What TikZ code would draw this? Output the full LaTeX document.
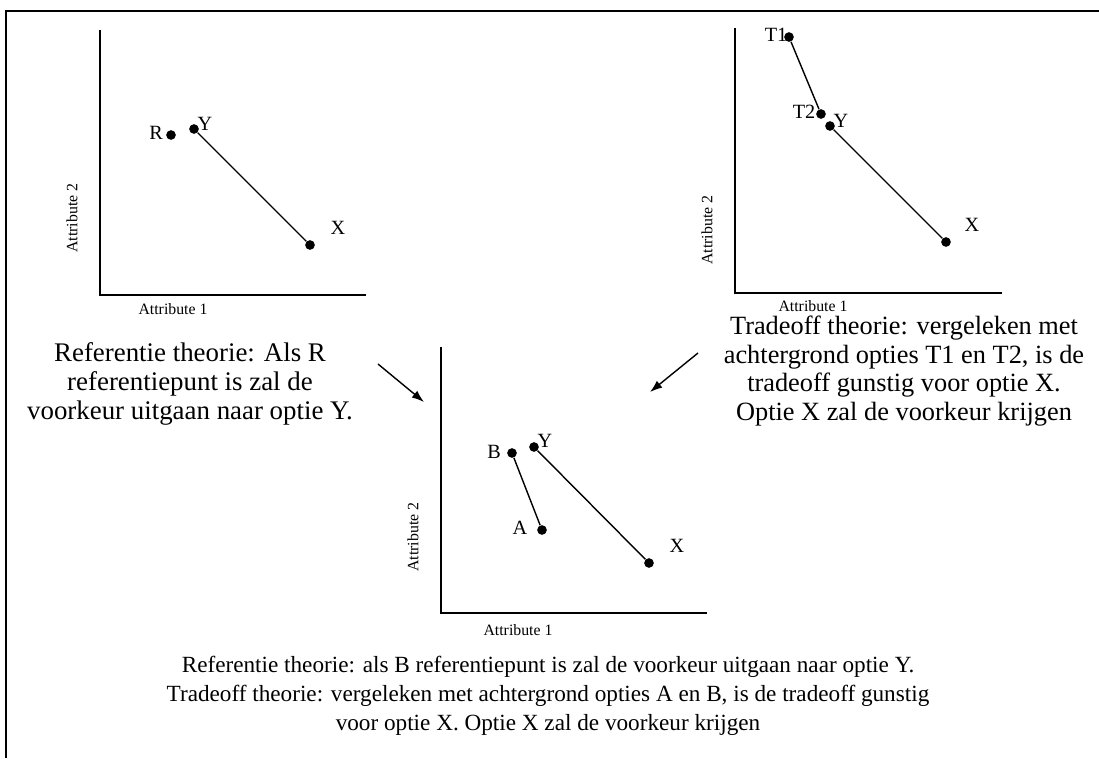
\documentclass[tikz,border=0pt]{standalone}
\usepackage{fontspec}
\setmainfont{Liberation Serif}
\usetikzlibrary{calc,arrows.meta}

\begin{document}
\begin{tikzpicture}[x=0.02cm,y=-0.02cm,>={Latex[length=7pt,width=5pt]}]
                \tikzset{
                    dot/.style={circle,fill,inner sep=0pt,minimum size=5.5pt},
                    axis/.style={line width=1.1pt},
                    pt/.style={font=\fontsize{11.5}{13}\selectfont,inner sep=0pt},
                    attr/.style={font=\fontsize{9}{10}\selectfont,inner sep=0pt},
                    expl/.style={font=\fontsize{15}{16.4}\selectfont,align=center,inner sep=0pt}
                }
                \useasboundingbox (0,0) rectangle (1099,758);
                \draw[line width=1.2pt] (6,758) -- (6,11) -- (1099,11);

                % referentie
                \coordinate (O1) at (100,295);
                \draw[axis] (100,30) -- (O1) -- (366,295);
                \node[attr] (a1x) at (173,309) {Attribute 1};
                \node[attr,rotate=90] (a1y) at (72,218) {Attribute 2};
                \node[dot] (R) at (171,135) {};
                \node[dot] (Y1) at (194,129) {};
                \node[dot] (X1) at (310,245) {};
                \draw[line width=0.8pt] (Y1) -- (X1);
                \node[pt] (lR) at (156,133) {R};
                \node[pt] (lY1) at (205,124) {Y};
                \node[pt] (lX1) at (338,228) {X};

                % tradeoff
                \coordinate (O2) at (735,293);
                \draw[axis] (735,28) -- (O2) -- (1002,293);
                \node[attr] (a2x) at (813,306) {Attribute 1};
                \node[attr,rotate=90] (a2y) at (707,230) {Attribute 2};
                \node[dot] (T1) at (789,37) {};
                \node[dot] (T2) at (821,114) {};
                \node[dot] (Y2) at (830,126) {};
                \node[dot] (X2) at (946,242) {};
                \draw[line width=0.8pt] (T1) -- (T2);
                \draw[line width=0.8pt] (Y2) -- (X2);
                \node[pt] (lT1) at (776,35) {T1};
                \node[pt] (lT2) at (804,112) {T2};
                \node[pt] (lY2) at (841,121) {Y};
                \node[pt] (lX2) at (972,225) {X};

                % beide
                \coordinate (O3) at (441,613);
                \draw[axis] (441,347) -- (O3) -- (707,613);
                \node[attr] (a3x) at (518,630) {Attribute 1};
                \node[attr,rotate=90] (a3y) at (413,537) {Attribute 2};
                \node[dot] (B) at (512,453) {};
                \node[dot] (Y3) at (534,447) {};
                \node[dot] (A) at (542,530) {};
                \node[dot] (X3) at (649,563) {};
                \draw[line width=0.8pt] (B) -- (A);
                \draw[line width=0.8pt] (Y3) -- (X3);
                \node[pt] (lB) at (494,452) {B};
                \node[pt] (lY3) at (545,441) {Y};
                \node[pt] (lA) at (520,528) {A};
                \node[pt] (lX3) at (677,546) {X};

                % uitleg
                \node[expl,font=\fontsize{15.3}{16.4}\selectfont] (t1) at (190,384) {Referentie theorie: Als R\\referentiepunt is zal de\\voorkeur uitgaan naar optie Y.};
                \node[expl] (t2) at (904,371) {Tradeoff theorie: vergeleken met\\achtergrond opties T1 en T2, is de\\tradeoff gunstig voor optie X.\\Optie X zal de voorkeur krijgen};
                \node[expl,font=\fontsize{13.2}{16.4}\selectfont] (t3) at (548,696) {Referentie theorie: als B referentiepunt is zal de voorkeur uitgaan naar optie Y.\\Tradeoff theorie: vergeleken met achtergrond opties A en B, is de tradeoff gunstig\\voor optie X. Optie X zal de voorkeur krijgen};

                \coordinate (s1) at (378,364);
                \coordinate (e1) at (424,402);
                \draw[->,line width=0.8pt] (s1) -- (e1);
                \coordinate (s2) at (698,353);
                \coordinate (e2) at (650,392);
                \draw[->,line width=0.8pt] (s2) -- (e2);
            \end{tikzpicture}
\end{document}
